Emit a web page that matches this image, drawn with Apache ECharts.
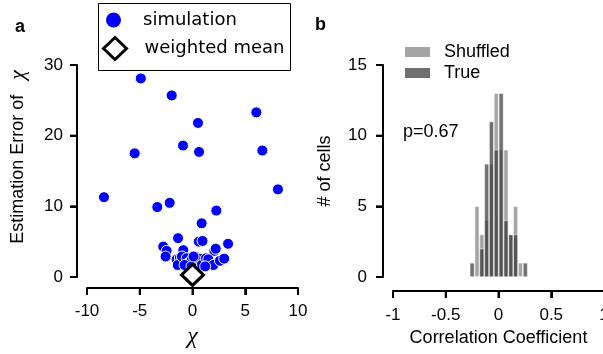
<!DOCTYPE html>
<html>
<head>
<meta charset="utf-8">
<script src="https://cdn.jsdelivr.net/npm/echarts@6.0.0/dist/echarts.min.js"></script>
<style>
  html, body { margin: 0; padding: 0; background: #fff; }
  #chart { width: 603px; height: 354px; }
</style>
</head>
<body>
<div id="chart"></div>
<script>
// panel a: simulated estimates (chi, estimation error)
const simX = [-4.9, -1.97, 6.05, 0.52, -0.9, -5.48, 0.62, 6.62, 8.1, -8.39, -3.34, -2.16, 2.26, 0.87, -1.37, 3.37, 0.6, 0.95,
    -2.77, -2.45, -2.55, -0.87, 2.07, 2.2, -1.5, -1.2, -1.4, -1.0, -0.55, -0.4, -0.08, 0.24, 0.4, 0.7, 0.87, 1.28, 1.5, 1.97,
    2.6, 3.0, -0.75, -0.1, 1.2, 0.1];
const simY = [28.1, 25.7, 23.3, 21.8, 18.6, 17.5, 17.7, 17.9, 12.4, 11.3, 9.9, 10.5, 9.4, 7.6, 5.5, 4.7, 5.0, 5.1,
    4.3, 3.7, 2.9, 3.8, 3.7, 4.0, 2.5, 2.7, 1.7, 2.9, 2.65, 1.95, 2.4, 2.9, 1.95, 2.6, 1.7, 2.65, 2.5, 1.7,
    2.3, 2.6, 1.7, 1.5, 1.5, 2.9];
const meanX = [0];
const meanY = [0.3];

// panel b: histogram of correlation coefficients
const binCenters = [-0.25, -0.204, -0.158, -0.112, -0.067, -0.021, 0.025, 0.071, 0.117, 0.162, 0.208, 0.254];
const shuffledCounts = [0, 5, 3, 4, 8, 13, 9, 9, 3, 5, 1, 0];
const trueCounts = [1, 0, 2, 8, 11, 9, 13, 4, 3, 3, 0, 1];

// tick values
const leftXTicks = [-10, -5, 0, 5, 10];
const leftYTicks = [0, 10, 20, 30];
const rightXTicks = [-1, -0.5, 0, 0.5, 1];
const rightYTicks = [0, 5, 10, 15];

const SANS = 'Liberation Sans';
const SERIF = 'Liberation Serif';
const X_OFFSET = [11, 14];
const Y_OFFSET = [10, 10];
const TICK_LEN = 7;

function tickRange(ticks) {
    return { min: ticks[0], max: ticks[ticks.length - 1], interval: ticks[1] - ticks[0] };
}

// spine + ticks only
function lineAxis(ticks, gridIndex, position, offset) {
    return Object.assign({
        type: 'value', gridIndex, position, offset,
        axisLine: { show: true, onZero: false, lineStyle: { color: '#000', width: 2 } },
        axisTick: { show: true, length: TICK_LEN, lineStyle: { color: '#000', width: 2 } },
        axisLabel: { show: false },
        splitLine: { show: false },
        z: 20,
    }, tickRange(ticks));
}

// labels + name only
function labelAxis(ticks, gridIndex, position, offset, margin, name, nameGap, nameTextStyle) {
    return Object.assign({
        type: 'value', gridIndex, position, offset,
        axisLine: { show: false, onZero: false },
        axisTick: { show: false },
        axisLabel: { fontSize: 17, color: '#000', fontFamily: SANS, margin: margin },
        splitLine: { show: false },
        name, nameGap, nameTextStyle,
        nameLocation: 'middle',
    }, tickRange(ticks));
}

const chart = echarts.init(document.getElementById('chart'));

const baseGraphic = [
    // legend frame of panel a
    { type: 'rect', z: 0, shape: { x: 98.5, y: 3.5, width: 192, height: 67 },
      style: { fill: '#fff', stroke: '#000', lineWidth: 1 } },
    { type: 'text', left: 15, top: 18, style: { text: 'a', fontFamily: SANS, fontWeight: 'bold', fontSize: 18, fill: '#000' } },
    { type: 'text', left: 315, top: 16, style: { text: 'b', fontFamily: SANS, fontWeight: 'bold', fontSize: 18, fill: '#000' } },
    { type: 'text', left: 403, top: 123, style: { text: 'p=0.67', fontFamily: SANS, fontSize: 18, fill: '#000' } },
];

const option = {
    animation: false,
    backgroundColor: '#fff',
    grid: [
        { left: 87, top: 65, width: 211, height: 212, outerBoundsMode: 'none' },
        { left: 393, top: 65, width: 211, height: 212, outerBoundsMode: 'none' },
    ],
    xAxis: [
        lineAxis(leftXTicks, 0, 'bottom', X_OFFSET[0]),
        lineAxis(rightXTicks, 1, 'bottom', X_OFFSET[1]),
        labelAxis(leftXTicks, 0, 'bottom', X_OFFSET[0], 15, 'χ', 36,
            { fontFamily: SERIF, fontStyle: 'italic', fontSize: 24, color: '#000' }),
        labelAxis(rightXTicks, 1, 'bottom', X_OFFSET[1], 16, 'Correlation Coefficient', 37,
            { fontFamily: SANS, fontSize: 18, color: '#000' }),
    ],
    yAxis: [
        lineAxis(leftYTicks, 0, 'left', Y_OFFSET[0]),
        lineAxis(rightYTicks, 1, 'left', Y_OFFSET[1]),
        labelAxis(leftYTicks, 0, 'left', Y_OFFSET[0], 14, 'Estimation Error of   {c|χ}', 48, {
            fontFamily: SANS, fontSize: 18, color: '#000',
            padding: [0, 0, 0, 28],
            rich: { c: { fontFamily: SERIF, fontStyle: 'italic', fontSize: 22, color: '#000' } },
        }),
        labelAxis(rightYTicks, 1, 'left', Y_OFFSET[1], 16, '# of cells', 49,
            { fontFamily: SANS, fontSize: 18, color: '#000' }),
    ],
    legend: [
        {
            data: ['simulation'],
            left: 106, top: 11, padding: 0,
            itemWidth: 15, itemHeight: 15,
            selectedMode: false,
            itemStyle: { borderWidth: 0 },
            textStyle: { fontFamily: 'DejaVu Sans', fontSize: 18, color: '#000', padding: [0, 0, 0, 17] },
        },
        {
            data: ['weighted mean'],
            left: 102, top: 36, padding: 0,
            itemWidth: 23, itemHeight: 22,
            selectedMode: false,
            itemStyle: { color: '#fff', borderColor: '#000', borderWidth: 3 },
            textStyle: { fontFamily: 'DejaVu Sans', fontSize: 18, color: '#000', padding: [0, 0, 0, 13] },
        },
        {
            data: ['Shuffled', 'True'],
            orient: 'vertical',
            left: 405, top: 43, padding: 0,
            itemWidth: 25, itemHeight: 10, itemGap: 3,
            icon: 'rect',
            selectedMode: false,
            itemStyle: { borderWidth: 0 },
            textStyle: { fontFamily: SANS, fontSize: 18, color: '#000', padding: [0, 0, 0, 9] },
        },
    ],
    graphic: baseGraphic,
    series: [
        {
            name: 'simulation',
            type: 'scatter',
            xAxisIndex: 0, yAxisIndex: 0,
            symbol: 'circle',
            symbolSize: 11,
            itemStyle: { color: '#0000ff', borderColor: '#fff', borderWidth: 1, opacity: 1 },
            data: simX.map((x, i) => [x, simY[i]]),
            z: 2,
        },
        {
            name: 'weighted mean',
            type: 'scatter',
            xAxisIndex: 0, yAxisIndex: 0,
            symbol: 'diamond',
            symbolSize: [22, 21],
            itemStyle: { color: '#fff', borderColor: '#000', borderWidth: 3, opacity: 1 },
            data: meanX.map((x, i) => [x, meanY[i]]),
            z: 3,
        },
        {
            name: 'Shuffled',
            type: 'bar',
            xAxisIndex: 1, yAxisIndex: 1,
            barWidth: 4.6,
            barGap: '-100%',
            itemStyle: { color: 'rgba(126,126,126,0.7)', borderColor: '#fff', borderWidth: 0.5 },
            data: binCenters.map((c, i) => [c, shuffledCounts[i]]),
        },
        {
            name: 'True',
            type: 'bar',
            xAxisIndex: 1, yAxisIndex: 1,
            barWidth: 4.6,
            barGap: '-100%',
            itemStyle: { color: 'rgba(51,51,51,0.7)', borderColor: '#fff', borderWidth: 0.5 },
            data: binCenters.map((c, i) => [c, trueCounts[i]]),
        },
    ],
};

chart.setOption(option);

// backup spines on their own layer, placed through the chart's scales
function seg(x1, y1, x2, y2) {
    return { type: 'line', z: 100, zlevel: 1, shape: { x1, y1, x2, y2 }, style: { stroke: '#000', lineWidth: 2 } };
}

function spines(gridIndex, xTicks, yTicks) {
    const toPx = (x, y) => chart.convertToPixel({ gridIndex }, [x, y]);
    const x0 = xTicks[0], x1 = xTicks[xTicks.length - 1];
    const y0 = yTicks[0], y1 = yTicks[yTicks.length - 1];
    const axisY = toPx(x0, y0)[1] + X_OFFSET[gridIndex];
    const axisX = toPx(x0, y0)[0] - Y_OFFSET[gridIndex];
    const out = [seg(toPx(x0, y0)[0], axisY, toPx(x1, y0)[0], axisY)];
    xTicks.forEach(t => {
        const px = toPx(t, y0)[0];
        out.push(seg(px, axisY, px, axisY + TICK_LEN));
    });
    out.push(seg(axisX, toPx(x0, y0)[1], axisX, toPx(x0, y1)[1]));
    yTicks.forEach(t => {
        const py = toPx(x0, t)[1];
        out.push(seg(axisX, py, axisX - TICK_LEN, py));
    });
    return out;
}

chart.setOption({
    graphic: baseGraphic.concat(spines(0, leftXTicks, leftYTicks), spines(1, rightXTicks, rightYTicks)),
});
</script>
</body>
</html>
